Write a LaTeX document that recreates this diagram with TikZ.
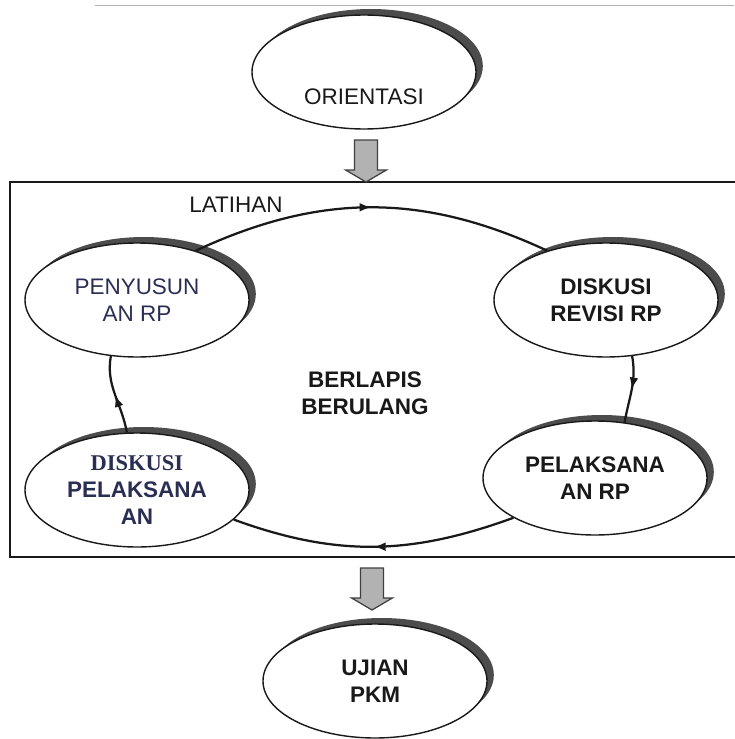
\documentclass[tikz,border=0pt]{standalone}
\usepackage{fontspec}
\setmainfont{Liberation Sans}
\newfontfamily\timesfont{Liberation Serif}
\usetikzlibrary{shapes.geometric,shadows,decorations.markings,arrows.meta}
\definecolor{ink}{RGB}{25,25,25}
\definecolor{inkblue}{RGB}{42,46,82}

\tikzset{
	oval/.style={ellipse, draw=ink, fill=white, line width=1pt,
		minimum width=5.6cm, minimum height=2.85cm, align=center,
		font=\fontsize{16}{19}\selectfont, text=ink,
		drop shadow={shadow xshift=0.17cm, shadow yshift=0.15cm, fill=black!70, opacity=1}},
	lbl/.style={align=center, font=\fontsize{16}{19}\selectfont, text=ink},
	midarrow/.style={postaction={decorate}, decoration={markings,
		mark=at position 0.5 with {\arrow{Latex[length=0.3cm,width=0.22cm]}}}},
	cycleline/.style={draw=ink, line width=1.6pt, midarrow},
	blockarr/.style={draw=black!75, fill=black!30, line width=0.9pt}
}

\begin{document}
\begin{tikzpicture}
	\useasboundingbox (0,0) rectangle (18.35,-18.475);
	\draw [black!30, line width=0.6pt] (2.375,-0.125) -- (18.35,-0.125);
	
	\node [oval] (ori) at (9.1,-1.8) {};
	\node [lbl] (oritxt) at (9.1,-2.425) {ORIENTASI};
	
	%frame round the cycle
	\draw [ink, line width=1.2pt] (0.25,-4.55) rectangle (18.7,-13.925);
	
	\foreach \x/\t/\b/\p in {9.15/-3.5/-4.25/-4.55, 9.3/-14.2/-14.95/-15.25}
		\draw [blockarr] (\x-0.29,\t) -- (\x+0.29,\t) -- (\x+0.29,\b) -- (\x+0.51,\b)
			-- (\x,\p) -- (\x-0.51,\b) -- (\x-0.29,\b) -- cycle;
	
	\node [oval, text=inkblue] (pen) at (3.425,-7.5) {PENYUSUN\\AN RP};
	\node [oval, font=\fontsize{16}{19}\selectfont\bfseries] (drev) at (15.15,-7.5) {DISKUSI\\REVISI RP};
	\node [oval, font=\fontsize{16}{19}\selectfont\bfseries] (prp) at (14.875,-11.95) {PELAKSANA\\AN RP};
	\node [oval, text=inkblue, font=\fontsize{16}{19}\selectfont\bfseries] (dpel) at (3.425,-12.25)
		{{\timesfont DISKUSI}\\PELAKSANA\\AN};
	\node [oval, font=\fontsize{16}{19}\selectfont\bfseries] (ujian) at (9.375,-17.025) {UJIAN\\PKM};
	
	\node [lbl, font=\fontsize{16}{19}\selectfont\bfseries] (mid) at (9.125,-9.825) {BERLAPIS\\BERULANG};
	\node [lbl] (lat) at (5.9,-5.125) {LATIHAN};
	
	%cycle:
	\foreach \s/\sa/\e/\ea/\o/\i in {pen/40/drev/140/25/155, drev/-65/prp/62/-80/80,
		prp/206/dpel/-17/200/-20, dpel/100/pen/-115/100/-100}
		\draw [cycleline] (\s.\sa) to [out=\o, in=\i] (\e.\ea);

\end{tikzpicture}
\end{document}
